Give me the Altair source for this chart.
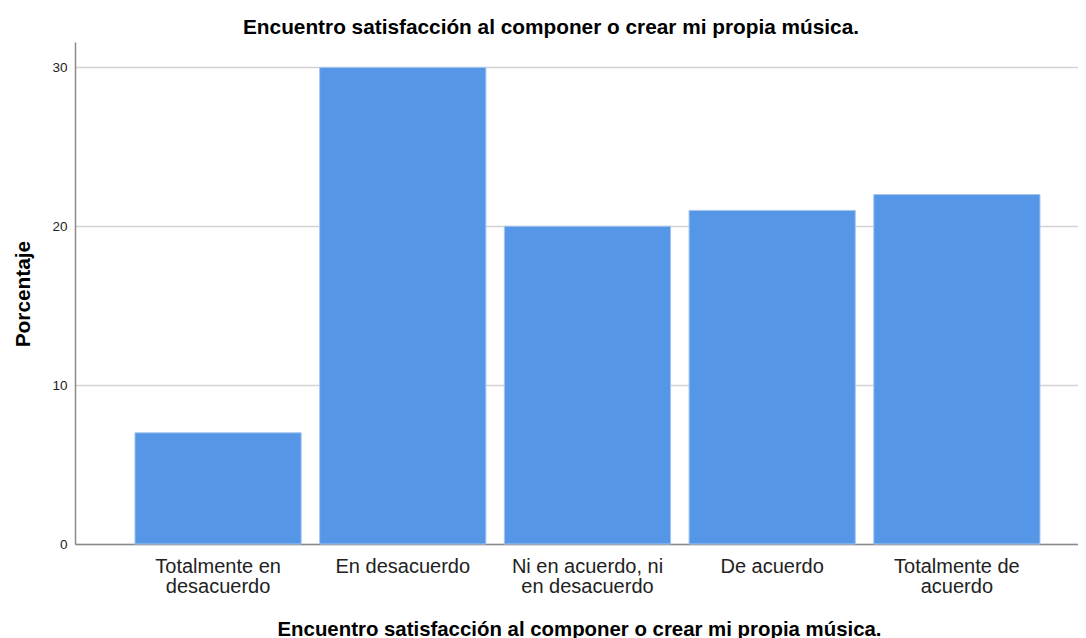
import altair as alt
import pandas as pd

categories = [
    "Totalmente en\ndesacuerdo",
    "En desacuerdo",
    "Ni en acuerdo, ni\nen desacuerdo",
    "De acuerdo",
    "Totalmente de\nacuerdo",
]
percentages = [7, 30, 20, 21, 22]
y_ticks = [0, 10, 20, 30]
title_text = "Encuentro satisfacción al componer o crear mi propia música."

df = pd.DataFrame({"cat": categories, "val": percentages})

FONT = "Liberation Sans"

chart = alt.Chart(df).mark_bar(
    color="#5596e6", stroke="#a6c6ef", strokeWidth=1
).encode(
    x=alt.X(
        "cat:N",
        sort=categories,
        scale=alt.Scale(paddingInner=0.1, paddingOuter=0.2652, align=0.612),
        axis=alt.Axis(
            title=title_text,
            labelExpr="split(datum.label, '\\n')",
            labelAngle=0,
            labelFont=FONT,
            labelFontSize=20,
            labelColor="#222222",
            labelLineHeight=19.5,
            labelBaseline="alphabetic",
            labelPadding=28.7,
            labelLimit=400,
            labelOverlap=False,
            ticks=False,
            domainColor="#8a8a8a",
            domainWidth=1.5,
            grid=False,
            titleFont=FONT,
            titleFontSize=20.4,
            titleFontWeight="bold",
            titleColor="#000000",
            titleBaseline="alphabetic",
            titleAlign="center",
            titleX=504,
            titleY=91,
        ),
    ),
    y=alt.Y(
        "val:Q",
        scale=alt.Scale(domain=[0, 31.6], nice=False),
        axis=alt.Axis(
            values=y_ticks,
            title="Porcentaje",
            grid=True,
            gridColor="#d3d3d3",
            gridWidth=1.5,
            ticks=False,
            labelPadding=8,
            labelFont=FONT,
            labelFontSize=13.5,
            labelColor="#222222",
            domainColor="#8a8a8a",
            domainWidth=1.5,
            titleFont=FONT,
            titleFontSize=20.8,
            titleFontWeight="bold",
            titleColor="#000000",
            titleAngle=-90,
            titleBaseline="alphabetic",
            titleAlign="center",
            titleX=-46,
            titleY=251.6,
        ),
    ),
).properties(
    width=1003,
    height=502,
    title=alt.Title(
        title_text,
        font=FONT,
        fontSize=20.8,
        fontWeight="bold",
        color="#000000",
        anchor="middle",
        frame="group",
        dx=-25.5,
        dy=20,
        baseline="alphabetic",
        offset=7.7,
    ),
    autosize=alt.AutoSizeParams(type="none"),
    padding={"left": 67, "top": 34, "right": 0, "bottom": 94},
).configure_view(stroke=None)

chart.save("out.html", embed_options={"renderer": "svg", "actions": False})
